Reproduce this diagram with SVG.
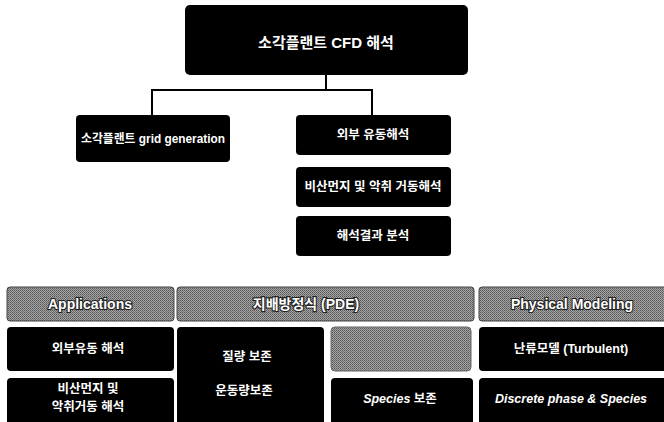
<svg xmlns="http://www.w3.org/2000/svg" width="664" height="422" viewBox="0 0 664 422">
<defs>
<pattern id="dither" width="2" height="2" patternUnits="userSpaceOnUse">
<rect width="2" height="2" fill="#a4a4a4"/>
<rect width="1" height="1" fill="#555"/>
<rect x="1" y="1" width="1" height="1" fill="#707070"/>
</pattern>
</defs>
<style>
.box{fill:#000;}
.hdr{fill:url(#dither);stroke:#444;stroke-width:1;}
.t{font-family:"Liberation Sans","Noto Sans CJK KR",sans-serif;font-weight:bold;fill:#fff;text-anchor:middle;dominant-baseline:central;font-size:12.5px;}
.ht{font-family:"Liberation Sans","Noto Sans CJK KR",sans-serif;font-weight:bold;fill:#fff;stroke:#222;stroke-width:2.2px;paint-order:stroke;text-anchor:middle;dominant-baseline:central;font-size:14px;}
.it{font-style:italic;}
.c{fill:none;stroke:#000;stroke-width:2;}
</style>
<rect width="664" height="422" fill="#fff"/>
<g id="connectors">
<path class="c" d="M326 75 V90 M152 90 H372 M152 89 V116 M372 89 V116"/>
</g>
<g id="root"><rect class="box" x="185" y="5" width="283" height="70" rx="5"/><text class="t" x="326" y="42" style="font-size:15px">소각플랜트 CFD 해석</text></g>
<g id="grid"><rect class="box" x="76" y="115" width="154" height="47" rx="4"/><text class="t" x="153" y="139" textLength="144" lengthAdjust="spacingAndGlyphs">소각플랜트 grid generation</text></g>
<g id="external"><rect class="box" x="296" y="115" width="155" height="40" rx="4"/><text class="t" x="373" y="135">외부 유동해석</text></g>
<g id="dust"><rect class="box" x="296" y="167" width="155" height="40" rx="4"/><text class="t" x="373" y="187">비산먼지 및 악취 거동해석</text></g>
<g id="result"><rect class="box" x="296" y="216" width="155" height="40" rx="4"/><text class="t" x="373" y="236">해석결과 분석</text></g>
<g id="h-app"><rect class="hdr" x="7" y="287" width="167" height="34" rx="3"/><text class="ht" x="90" y="304">Applications</text></g>
<g id="h-pde"><rect class="hdr" x="177" y="287" width="297" height="34" rx="3"/><text class="ht" x="306" y="304">지배방정식 (PDE)</text></g>
<g id="h-phys"><rect class="hdr" x="479" y="287" width="190" height="34" rx="3"/><text class="ht" x="572" y="304">Physical Modeling</text></g>
<g id="app1"><rect class="box" x="7" y="327" width="167" height="44" rx="4"/><text class="t" x="88" y="349">외부유동 해석</text></g>
<g id="app2"><rect class="box" x="7" y="378" width="167" height="50" rx="4"/><text class="t" x="88" y="389">비산먼지 및</text><text class="t" x="88" y="407">악취거동 해석</text></g>
<g id="pde1"><rect class="box" x="177" y="327" width="147" height="101" rx="4"/><text class="t" x="247" y="357">질량 보존</text><text class="t" x="244" y="391">운동량보존</text></g>
<g id="pde2"><rect x="331" y="327" width="140" height="44" rx="4" fill="url(#dither)" stroke="#666"/></g>
<g id="pde3"><rect class="box" x="331" y="378" width="142" height="50" rx="4"/><text class="t" x="400" y="399"><tspan class="it">Species</tspan> 보존</text></g>
<g id="phys1"><rect class="box" x="479" y="327" width="190" height="44" rx="4"/><text class="t" x="571" y="349">난류모델 (Turbulent)</text></g>
<g id="phys2"><rect class="box" x="479" y="378" width="190" height="50" rx="4"/><text class="t it" x="571" y="399">Discrete phase &amp; Species</text></g>
</svg>
